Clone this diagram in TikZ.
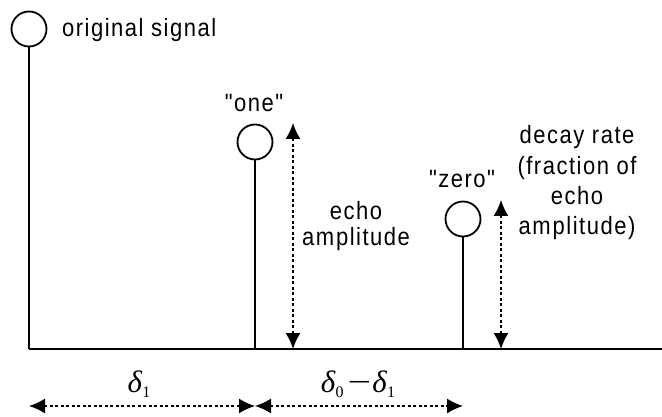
\documentclass[tikz,border=0pt]{standalone}
\usepackage[no-math]{fontspec}
\newfontfamily\labelfont{Liberation Sans}[FakeStretch=0.88,LetterSpace=6]
\newfontfamily\greekfont{Liberation Serif}
\usetikzlibrary{arrows.meta}
\newcommand\dsub[1]{{\itshape δ}\kern0.5pt\raisebox{-5pt}{\fontsize{16}{16}\selectfont #1}}
\tikzset{
  sig/.style={circle, draw, line width=1.8pt, minimum size=35pt, inner sep=0pt},
  solidline/.style={line width=2pt},
  dimarrow/.style={line width=1.5pt, dash pattern=on 3pt off 2.5pt,
    {Latex[length=16pt,width=15pt]}-{Latex[length=16pt,width=15pt]}},
  lbl/.style={font=\labelfont\fontsize{25}{27}\selectfont, inner sep=0pt},
  lbltall/.style={font=\labelfont\fontsize{25}{30.5}\selectfont, inner sep=0pt},
  mlbl/.style={font=\greekfont\fontsize{31}{34}\selectfont, inner sep=0pt}
}
\begin{document}
\begin{tikzpicture}[x=1pt,y=-1pt]
\useasboundingbox (0,0) rectangle (662,417);
% baseline coordinates
\coordinate (b0) at (29,349);
\coordinate (bend) at (662,349);
% signal circles
\node[sig] (orig) at (29,29) {};
\node[sig] (one) at (255,142) {};
\node[sig] (zero) at (463,219) {};
% stems and axis
\draw[solidline] (orig.south) -- (orig.south |- b0);
\draw[solidline] (one.south) -- (one.south |- b0);
\draw[solidline] (zero.south) -- (zero.south |- b0);
\draw[solidline] (b0) -- (bend);
% labels
\node[lbl, anchor=base west] (torig) at (62,37) {original signal};
\node[lbl, anchor=base] (tone) at (254,112) {"one"};
\node[lbl, anchor=base] (tzero) at (462,188) {"zero"};
% echo amplitude arrow
\coordinate (ea1) at (293,123);
\coordinate (ea2) at (293,349);
\draw[dimarrow] (ea1) -- (ea2);
\node[lbl, anchor=base, align=center] (techo) at (356,246) {echo\\am\kern2pt plitude};
% decay arrow
\coordinate (da1) at (501,200);
\coordinate (da2) at (501,349);
\draw[dimarrow] (da1) -- (da2);
\node[lbltall, anchor=base, align=center] (tdecay) at (577,235) {decay rate\\(fraction of\\echo\\am\kern2pt plitude)};
% bottom delays
\coordinate (d0) at (29,406);
\coordinate (d1) at (255,406);
\coordinate (d2) at (463,406);
\draw[dimarrow] (d0) -- (d1);
\draw[dimarrow] (d1) -- (d2);
\node[mlbl, anchor=base] (tdel1) at (139,392) {\dsub{1}};
\node[mlbl, anchor=base] (tdel2) at (358,392) {\dsub{0}\kern4pt\scalebox{1.35}[1]{−}\kern1pt\dsub{1}};
\end{tikzpicture}
\end{document}
